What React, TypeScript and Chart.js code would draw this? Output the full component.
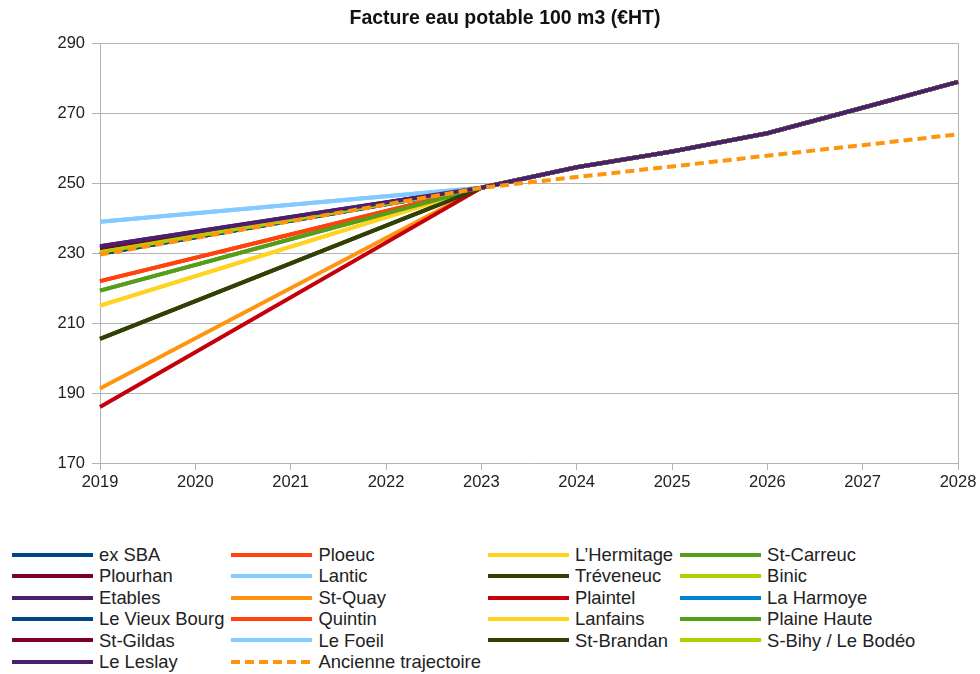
import React, { useEffect, useRef } from "react";
import { Chart, registerables } from "chart.js";

Chart.register(...registerables);

const years = ["2019", "2020", "2021", "2022", "2023", "2024", "2025", "2026", "2027", "2028"];

// Common trajectory shared by every commune from 2023 onwards
const commonFrom2023 = [248.7, 254.6, 259.1, 264.3, 271.6, 279.0];

const communes = [
  "ex SBA", "Ploeuc", "L’Hermitage", "St-Carreuc",
  "Plourhan", "Lantic", "Tréveneuc", "Binic",
  "Etables", "St-Quay", "Plaintel", "La Harmoye",
  "Le Vieux Bourg", "Quintin", "Lanfains", "Plaine Haute",
  "St-Gildas", "Le Foeil", "St-Brandan", "S-Bihy / Le Bodéo",
  "Le Leslay",
];

// 2019 bill for each commune (same order as above)
const start2019 = [
  229.8, 222.0, 215.0, 219.3,
  231.5, 239.0, 205.5, 230.3,
  232.0, 191.3, 186.0, 229.8,
  229.8, 222.0, 215.0, 219.3,
  231.5, 239.0, 205.5, 230.3,
  232.0,
];

const oldTrajectoryLabel = "Ancienne trajectoire";
const oldTrajectory = [229.6, null, null, null, 248.7, 251.8, 254.8, 257.9, 260.9, 264.0];

const palette = [
  "#004586", "#ff420e", "#ffd320", "#579d1c", "#7e0021", "#83caff",
  "#314004", "#aecf00", "#4b1f6f", "#ff950e", "#c5000b", "#0084d1",
];

const yTicks = { min: 170, max: 290, step: 20 };

const FONT = "'Liberation Sans', Arial, sans-serif";

type Entry = { label: string; color: string; dashed: boolean };

export default function App() {
  const canvasRef = useRef<HTMLCanvasElement | null>(null);

  const datasets: any[] = communes.map((name, i) => ({
    label: name,
    data: [start2019[i], null, null, null, ...commonFrom2023],
    borderColor: palette[i % palette.length],
    backgroundColor: palette[i % palette.length],
    borderWidth: 4,
    pointRadius: 0,
    spanGaps: true,
    tension: 0,
    order: communes.length + 1 - i,
  }));
  datasets.push({
    label: oldTrajectoryLabel,
    data: oldTrajectory,
    borderColor: palette[communes.length % palette.length],
    backgroundColor: palette[communes.length % palette.length],
    borderWidth: 4,
    borderDash: [9, 5],
    pointRadius: 0,
    spanGaps: true,
    tension: 0,
    order: 0,
  });

  const entries: Entry[] = datasets.map((d) => ({
    label: d.label,
    color: d.borderColor,
    dashed: !!d.borderDash,
  }));

  useEffect(() => {
    if (!canvasRef.current) return;
    const chart = new Chart(canvasRef.current, {
      type: "line",
      data: { labels: years, datasets },
      options: {
        responsive: false,
        animation: false,
        layout: { padding: { left: 52, right: 22, top: 0, bottom: 7 } },
        plugins: {
          legend: { display: false },
          tooltip: { enabled: false },
          title: {
            display: true,
            text: "Facture eau potable 100 m3 (€HT)",
            color: "#111",
            font: { family: FONT, size: 19.5, weight: "bold" },
            padding: { top: 7, bottom: 13 },
          },
        },
        scales: {
          x: {
            type: "category",
            offset: false,
            grid: {
              color: (ctx: any) => (ctx.index === years.length - 1 ? "#b3b3b3" : "rgba(0,0,0,0)"),
              tickColor: "#b3b3b3",
              tickLength: 7,
              lineWidth: 1,
            },
            border: { color: "#b3b3b3", width: 1 },
            ticks: {
              color: "#222",
              font: { family: FONT, size: 16.5 },
              padding: 3,
              maxRotation: 0,
              autoSkip: false,
            },
            afterFit: (scale: any) => {
              scale.height = 30;
            },
          },
          y: {
            min: yTicks.min,
            max: yTicks.max,
            grid: { color: "#b3b3b3", tickColor: "#b3b3b3", tickLength: 8, lineWidth: 1 },
            border: { color: "#b3b3b3", width: 1 },
            ticks: {
              stepSize: yTicks.step,
              color: "#222",
              font: { family: FONT, size: 16.5 },
              padding: 7,
            },
            afterFit: (scale: any) => {
              scale.width = 48;
            },
          },
        },
      },
    });
    return () => chart.destroy();
  }, []);

  return (
    <div
      style={{
        position: "absolute",
        left: 0,
        top: 0,
        width: 980,
        height: 674,
        background: "#ffffff",
        overflow: "hidden",
      }}
    >
      <canvas ref={canvasRef} width={980} height={500} style={{ display: "block" }} />
      <div
        style={{
          position: "absolute",
          left: 12,
          top: 544,
          display: "grid",
          gridTemplateColumns: "repeat(4, auto)",
          columnGap: 7,
          fontFamily: FONT,
          fontSize: 18.4,
          lineHeight: "21.4px",
          color: "#222",
        }}
      >
        {entries.map((e) => (
          <div key={e.label} style={{ display: "flex", alignItems: "center", whiteSpace: "nowrap" }}>
            <span
              style={{
                display: "inline-block",
                width: 81,
                height: 4,
                marginRight: 6,
                background: e.dashed
                  ? `repeating-linear-gradient(90deg, ${e.color} 0 9px, transparent 9px 14px)`
                  : e.color,
              }}
            />
            <span>{e.label}</span>
          </div>
        ))}
      </div>
    </div>
  );
}
